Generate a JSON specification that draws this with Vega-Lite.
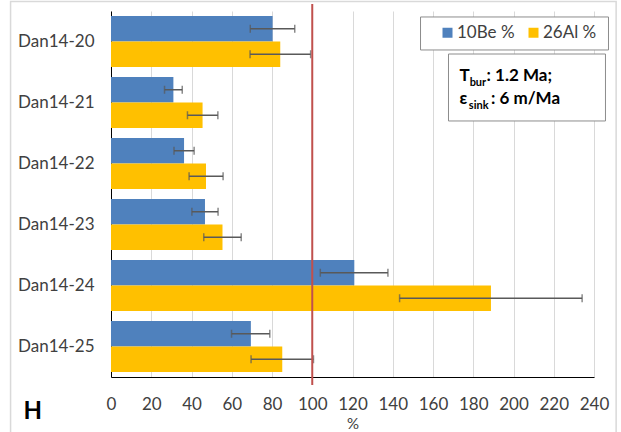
{
  "$schema": "https://vega.github.io/schema/vega-lite/v6.json",
  "width": 483,
  "height": 366,
  "autosize": {"type": "none"},
  "padding": {"left": 111, "top": 11, "right": 27, "bottom": 55},
  "background": "white",
  "config": {
    "font": "Lato",
    "view": {"stroke": null},
    "axis": {"labelColor": "#404040", "titleColor": "#404040", "labelFont": "Lato", "titleFont": "Lato"}
  },
  "layer": [
    {
      "data": {
        "values": [
          {"sample": "Dan14-20", "isotope": "10Be %", "pct": 80.3, "lo": 69.2, "hi": 91.3},
          {"sample": "Dan14-20", "isotope": "26Al %", "pct": 84.1, "lo": 69.1, "hi": 99.2},
          {"sample": "Dan14-21", "isotope": "10Be %", "pct": 31.0, "lo": 26.6, "hi": 35.4},
          {"sample": "Dan14-21", "isotope": "26Al %", "pct": 45.5, "lo": 38.0, "hi": 53.1},
          {"sample": "Dan14-22", "isotope": "10Be %", "pct": 36.3, "lo": 31.3, "hi": 41.3},
          {"sample": "Dan14-22", "isotope": "26Al %", "pct": 47.2, "lo": 38.8, "hi": 55.7},
          {"sample": "Dan14-23", "isotope": "10Be %", "pct": 46.7, "lo": 40.2, "hi": 53.2},
          {"sample": "Dan14-23", "isotope": "26Al %", "pct": 55.4, "lo": 46.1, "hi": 64.7},
          {"sample": "Dan14-24", "isotope": "10Be %", "pct": 120.9, "lo": 104.0, "hi": 137.6},
          {"sample": "Dan14-24", "isotope": "26Al %", "pct": 188.8, "lo": 143.4, "hi": 234.1},
          {"sample": "Dan14-25", "isotope": "10Be %", "pct": 69.5, "lo": 59.9, "hi": 78.9},
          {"sample": "Dan14-25", "isotope": "26Al %", "pct": 85.1, "lo": 69.6, "hi": 100.6}
        ]
      },
      "encoding": {
        "y": {
          "field": "sample",
          "type": "nominal",
          "sort": null,
          "scale": {"paddingInner": 0.164, "paddingOuter": 0.082},
          "axis": {
            "title": null,
            "ticks": false,
            "labelFontSize": 17,
            "labelPadding": 17,
            "domainColor": "#000000",
            "domainWidth": 1,
            "grid": false
          }
        },
        "yOffset": {"field": "isotope", "type": "nominal", "sort": ["10Be %", "26Al %"]}
      },
      "layer": [
        {
          "mark": {"type": "bar"},
          "encoding": {
            "x": {
              "field": "pct",
              "type": "quantitative",
              "scale": {"domain": [0, 240], "nice": false, "zero": true},
              "axis": {
                "title": "%",
                "titleFontSize": 15,
                "titleFontWeight": "normal",
                "titlePadding": 4,
                "values": [0, 20, 40, 60, 80, 100, 120, 140, 160, 180, 200, 220, 240],
                "ticks": false,
                "labelFontSize": 17,
                "labelPadding": 19,
                "labelFlush": false,
                "domainColor": "#000000",
                "domainWidth": 1,
                "grid": true,
                "gridColor": "#D9D9D9",
                "gridWidth": 1
              }
            },
            "color": {
              "field": "isotope",
              "type": "nominal",
              "scale": {"domain": ["10Be %", "26Al %"], "range": ["#4F81BD", "#FFC000"]},
              "legend": {
                "orient": "none",
                "legendX": 328,
                "legendY": 13,
                "direction": "horizontal",
                "title": null,
                "symbolType": "square",
                "symbolSize": 100,
                "symbolStrokeWidth": 0,
                "labelFontSize": 17,
                "labelColor": "#404040",
                "labelOffset": 1,
                "columnPadding": 10,
                "padding": 0
              }
            }
          }
        },
        {
          "mark": {"type": "rule", "color": "#595959", "strokeWidth": 1.5},
          "encoding": {
            "x": {"field": "lo", "type": "quantitative"},
            "x2": {"field": "hi"}
          }
        },
        {
          "mark": {"type": "tick", "color": "#595959", "thickness": 1.5, "size": 8, "orient": "vertical"},
          "encoding": {"x": {"field": "lo", "type": "quantitative"}}
        },
        {
          "mark": {"type": "tick", "color": "#595959", "thickness": 1.5, "size": 8, "orient": "vertical"},
          "encoding": {"x": {"field": "hi", "type": "quantitative"}}
        }
      ]
    },
    {
      "data": {"values": [{}]},
      "encoding": {
        "y": {"type": "quantitative", "scale": {"domain": [0, 6], "reverse": true, "nice": false, "zero": false}, "axis": null}
      },
      "layer": [
        {
          "mark": {"type": "rect", "fill": null, "stroke": "#D9D9D9", "strokeWidth": 1.5, "clip": false},
          "encoding": {
            "x": {"datum": -49.9, "type": "quantitative"},
            "x2": {"datum": 251.0},
            "y": {"datum": -0.156, "type": "quantitative"},
            "y2": {"datum": 8}
          }
        },
        {
          "mark": {"type": "rule", "color": "#C0504D", "strokeWidth": 2},
          "encoding": {
            "x": {"datum": 100, "type": "quantitative"},
            "y": {"datum": -0.115, "type": "quantitative"},
            "y2": {"datum": 6.13}
          }
        },
        {
          "mark": {"type": "rect", "fill": "white", "stroke": "#8C8C8C", "strokeWidth": 1},
          "encoding": {
            "x": {"datum": 153.8, "type": "quantitative"},
            "x2": {"datum": 247.2},
            "y": {"datum": 0.098, "type": "quantitative"},
            "y2": {"datum": 0.639}
          }
        },
        {
          "mark": {"type": "rect", "fill": "white", "stroke": "#8C8C8C", "strokeWidth": 1},
          "encoding": {
            "x": {"datum": 167.7, "type": "quantitative"},
            "x2": {"datum": 245.7},
            "y": {"datum": 0.705, "type": "quantitative"},
            "y2": {"datum": 1.803}
          }
        },
        {
          "mark": {"type": "text", "text": "T", "font": "Lato", "fontSize": 17, "fontWeight": "bold", "color": "#000000", "align": "left", "baseline": "alphabetic"},
          "encoding": {"x": {"datum": 173.2, "type": "quantitative"}, "y": {"datum": 1.143, "type": "quantitative"}}
        },
        {
          "mark": {"type": "text", "text": "bur", "font": "Lato", "fontSize": 11, "fontWeight": "bold", "color": "#000000", "align": "left", "baseline": "alphabetic"},
          "encoding": {"x": {"datum": 178.2, "type": "quantitative"}, "y": {"datum": 1.23, "type": "quantitative"}}
        },
        {
          "mark": {"type": "text", "text": ": 1.2 Ma;", "font": "Lato", "fontSize": 17, "fontWeight": "bold", "color": "#000000", "align": "left", "baseline": "alphabetic"},
          "encoding": {"x": {"datum": 186.6, "type": "quantitative"}, "y": {"datum": 1.143, "type": "quantitative"}}
        },
        {
          "mark": {"type": "text", "text": "ε", "font": "Lato", "fontSize": 17, "fontWeight": "bold", "color": "#000000", "align": "left", "baseline": "alphabetic"},
          "encoding": {"x": {"datum": 173.2, "type": "quantitative"}, "y": {"datum": 1.525, "type": "quantitative"}}
        },
        {
          "mark": {"type": "text", "text": "sink", "font": "Lato", "fontSize": 11, "fontWeight": "bold", "color": "#000000", "align": "left", "baseline": "alphabetic"},
          "encoding": {"x": {"datum": 177.8, "type": "quantitative"}, "y": {"datum": 1.6, "type": "quantitative"}}
        },
        {
          "mark": {"type": "text", "text": ": 6 m/Ma", "font": "Lato", "fontSize": 17, "fontWeight": "bold", "color": "#000000", "align": "left", "baseline": "alphabetic"},
          "encoding": {"x": {"datum": 188.8, "type": "quantitative"}, "y": {"datum": 1.525, "type": "quantitative"}}
        },
        {
          "mark": {"type": "text", "text": "H", "font": "Lato", "fontSize": 24, "fontWeight": "bold", "color": "#000000", "align": "left", "baseline": "alphabetic"},
          "encoding": {"x": {"datum": -43.5, "type": "quantitative"}, "y": {"datum": 6.689, "type": "quantitative"}}
        }
      ]
    }
  ],
  "resolve": {"scale": {"y": "independent"}}
}
